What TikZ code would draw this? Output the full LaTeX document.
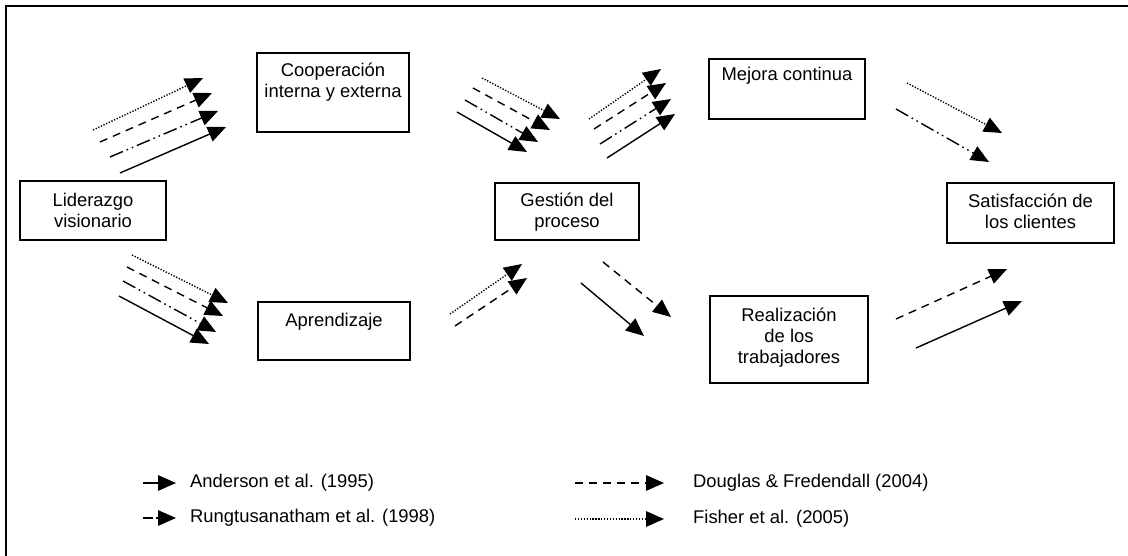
\documentclass[tikz,border=0pt]{standalone}
\usepackage{fontspec}
\setmainfont{Liberation Sans}
\usetikzlibrary{arrows.meta}
\begin{document}
\begin{tikzpicture}[x=1pt,y=-1pt,
  every node/.style={font=\fontsize{18.4}{21}\selectfont, inner sep=0pt},
  box/.style={draw, line width=1.5pt, rectangle},
  lbl/.style={align=center},
  flow/.style={line width=1.4pt, -{Triangle[length=18pt,width=15.5pt]}},
  solidline/.style={flow},
  dashline/.style={flow, dash pattern=on 8pt off 6pt},
  dotline/.style={flow, dash pattern=on 1.3pt off 1.6pt},
  ddline/.style={flow, dash pattern=on 14pt off 4pt on 1.6pt off 4pt on 1.6pt off 4pt},
  legtext/.style={anchor=west}]
\useasboundingbox (0,0) rectangle (1128,556);
\fill[white] (0,0) rectangle (1128,556);

% outer frame
\draw[line width=2pt] (6,560) -- (6,6) -- (1130,6);

% boxes
\node[box, minimum width=146pt, minimum height=59pt] (lid) at (93,210.5) {};
\node[lbl] (lidt) at (93,210) {Liderazgo\\visionario};
\node[box, minimum width=152pt, minimum height=79pt] (coop) at (333,92.5) {};
\node[lbl] (coopt) at (333,82) {Cooperación\\interna y externa};
\node[box, minimum width=144pt, minimum height=57pt] (gest) at (567,211.5) {};
\node[lbl] (gestt) at (567,212) {Gestión del\\proceso};
\node[box, minimum width=156pt, minimum height=60pt] (mej) at (787,89) {};
\node[lbl] (mejt) at (787,76) {Mejora continua};
\node[box, minimum width=167pt, minimum height=60pt] (sat) at (1030.5,213) {};
\node[lbl] (satt) at (1030.5,211.5) {Satisfacción de\\los clientes};
\node[box, minimum width=152pt, minimum height=58pt] (apr) at (334,331) {};
\node[lbl] (aprt) at (334,322) {Aprendizaje};
\node[box, minimum width=158pt, minimum height=87pt] (rea) at (789,339.5) {};
\node[lbl] (reat) at (789,338) {Realización\\de los\\trabajadores};

% Liderazgo -> Cooperacion
\coordinate (a1s) at (93,130);  \coordinate (a1e) at (203,78);
\coordinate (a2s) at (100,142); \coordinate (a2e) at (212,93);
\coordinate (a3s) at (110,157); \coordinate (a3e) at (218,111);
\coordinate (a4s) at (120,173); \coordinate (a4e) at (226,127);
\draw[dotline] (a1s) -- (a1e);
\draw[dashline] (a2s) -- (a2e);
\draw[ddline] (a3s) -- (a3e);
\draw[solidline] (a4s) -- (a4e);

% Cooperacion -> Gestion
\coordinate (b1s) at (482,78);  \coordinate (b1e) at (560,119);
\coordinate (b2s) at (473,88);  \coordinate (b2e) at (550,130);
\coordinate (b3s) at (465,100); \coordinate (b3e) at (538,142);
\coordinate (b4s) at (457,112); \coordinate (b4e) at (527,152);
\draw[dotline] (b1s) -- (b1e);
\draw[dashline] (b2s) -- (b2e);
\draw[ddline] (b3s) -- (b3e);
\draw[solidline] (b4s) -- (b4e);

% Gestion -> Mejora
\coordinate (c1s) at (589,119); \coordinate (c1e) at (661,69);
\coordinate (c2s) at (594,129); \coordinate (c2e) at (666,83);
\coordinate (c3s) at (600,144); \coordinate (c3e) at (671,99);
\coordinate (c4s) at (607,158); \coordinate (c4e) at (675,114);
\draw[dotline] (c1s) -- (c1e);
\draw[dashline] (c2s) -- (c2e);
\draw[ddline] (c3s) -- (c3e);
\draw[solidline] (c4s) -- (c4e);

% Mejora -> Satisfaccion
\coordinate (d1s) at (907,83);  \coordinate (d1e) at (1002,133);
\coordinate (d2s) at (896,109); \coordinate (d2e) at (989,162);
\draw[dotline] (d1s) -- (d1e);
\draw[ddline] (d2s) -- (d2e);

% Liderazgo -> Aprendizaje
\coordinate (e1s) at (132,255); \coordinate (e1e) at (228,303);
\coordinate (e2s) at (127,267); \coordinate (e2e) at (223,316);
\coordinate (e3s) at (123,281); \coordinate (e3e) at (216,332);
\coordinate (e4s) at (119,296); \coordinate (e4e) at (209,344);
\draw[dotline] (e1s) -- (e1e);
\draw[dashline] (e2s) -- (e2e);
\draw[ddline] (e3s) -- (e3e);
\draw[solidline] (e4s) -- (e4e);

% Aprendizaje -> Gestion
\coordinate (f1s) at (450,314); \coordinate (f1e) at (522,264);
\coordinate (f2s) at (455,326); \coordinate (f2e) at (527,278);
\draw[dotline] (f1s) -- (f1e);
\draw[dashline] (f2s) -- (f2e);

% Gestion -> Realizacion
\coordinate (g1s) at (603,262); \coordinate (g1e) at (671,317);
\coordinate (g2s) at (581,283); \coordinate (g2e) at (644,336);
\draw[dashline] (g1s) -- (g1e);
\draw[solidline] (g2s) -- (g2e);

% Realizacion -> Satisfaccion
\coordinate (h1s) at (896,319); \coordinate (h1e) at (1007,269);
\coordinate (h2s) at (916,348); \coordinate (h2e) at (1022,301);
\draw[dashline] (h1s) -- (h1e);
\draw[solidline] (h2s) -- (h2e);

% legend
\coordinate (l1s) at (143,483); \coordinate (l1e) at (176,483);
\coordinate (l2s) at (143,518); \coordinate (l2e) at (176,518);
\coordinate (l3s) at (575,483); \coordinate (l3e) at (664,483);
\coordinate (l4s) at (575,519); \coordinate (l4e) at (664,519);
\draw[solidline] (l1s) -- (l1e);
\draw[ddline, dash pattern=on 10pt off 3pt on 1.6pt off 3pt on 1.6pt off 3pt] (l2s) -- (l2e);
\draw[dashline] (l3s) -- (l3e);
\draw[dotline] (l4s) -- (l4e);
\node[legtext] (t1) at (190,483) {Anderson et al. (1995)};
\node[legtext] (t2) at (190,518) {Rungtusanatham et al. (1998)};
\node[legtext] (t3) at (693,483) {Douglas \& Fredendall (2004)};
\node[legtext] (t4) at (693,519) {Fisher et al. (2005)};
\end{tikzpicture}
\end{document}
